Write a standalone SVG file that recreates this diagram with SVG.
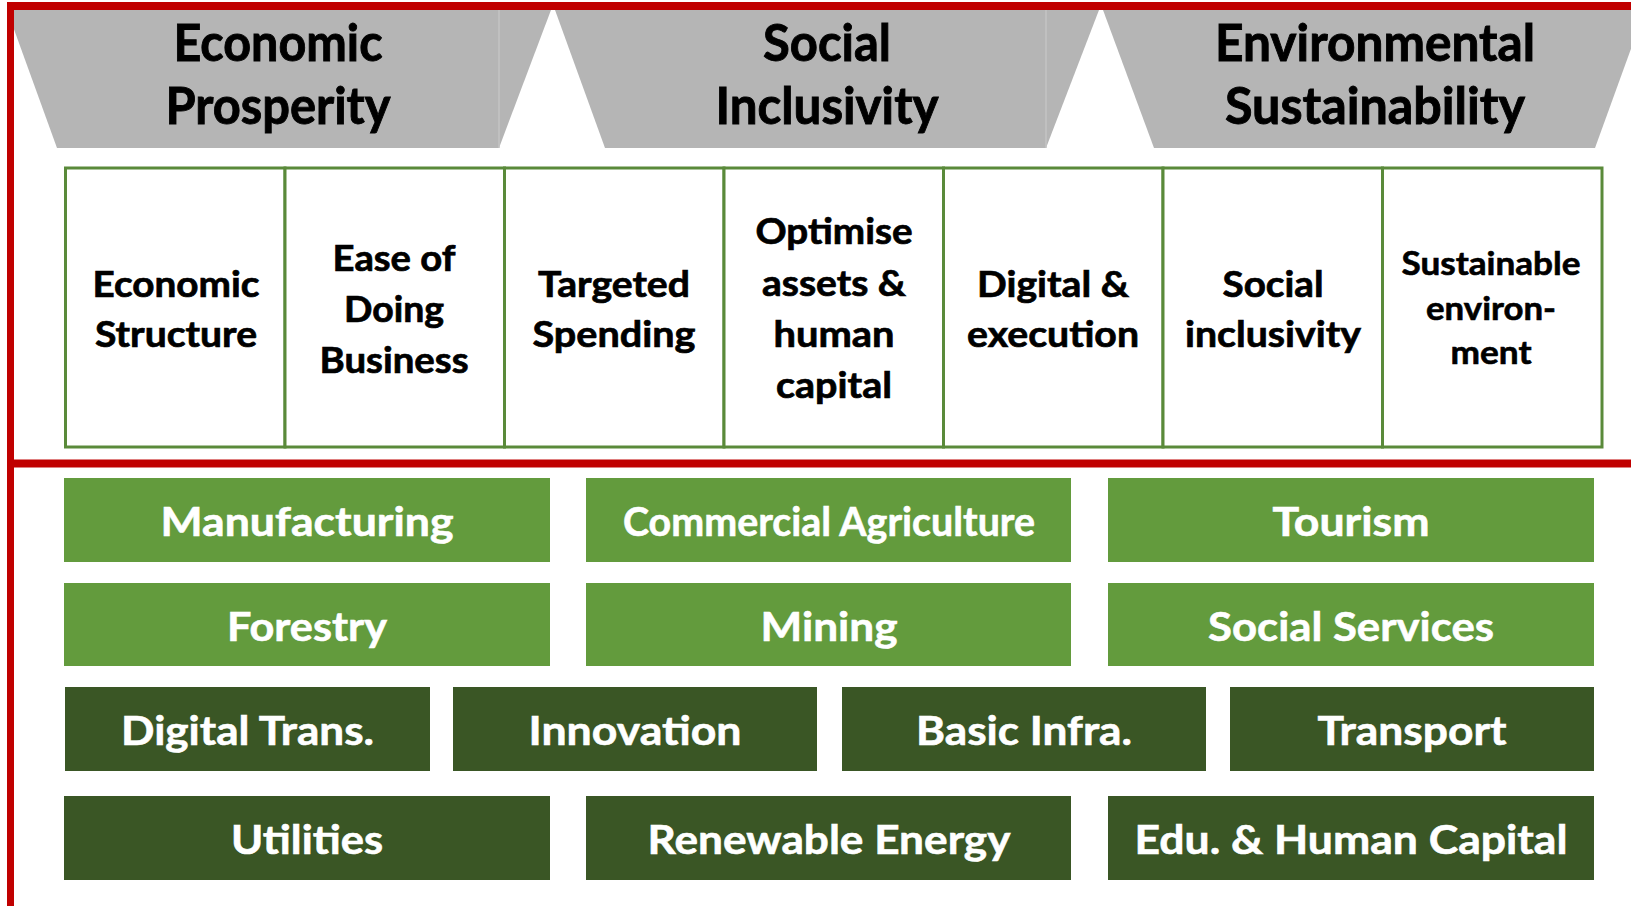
<svg xmlns="http://www.w3.org/2000/svg" width="1631" height="906" viewBox="0 0 1631 906">
<style>
text{font-family:Lato,"Open Sans","Liberation Sans",sans-serif;font-weight:bold;text-anchor:middle}
.hdr{fill:#b5b5b5}
.seam{stroke:#c4c4c4;stroke-width:1.5}
.ht{font-size:51px;fill:#000;stroke:#000;stroke-width:0.9}
.cell{fill:#fff;stroke:#5a8a3a;stroke-width:3}
.ct{font-size:37px;fill:#000;stroke:#000;stroke-width:0.7}
.cs{font-size:32px;fill:#000;stroke:#000;stroke-width:0.6}
.lg{fill:#639b3d}
.dg{fill:#3a5625}
.bt{font-size:41px;fill:#fff;stroke:#fff;stroke-width:0.6}
.red{stroke:#c00000;stroke-width:8;fill:none}
</style>
<rect width="1631" height="906" fill="#fff"/>

<g id="pillar-economic">
<polygon class="hdr" points="7,10 551,10 499,148 57,148"/>
<line class="seam" x1="499" y1="10" x2="499" y2="148"/>
<text class="ht" x="278" y="61" textLength="209" lengthAdjust="spacingAndGlyphs">Economic</text>
<text class="ht" x="278" y="124" textLength="225" lengthAdjust="spacingAndGlyphs">Prosperity</text>
</g>
<g id="pillar-social">
<polygon class="hdr" points="555,10 1099,10 1046,148 605,148"/>
<line class="seam" x1="1046" y1="10" x2="1046" y2="148"/>
<text class="ht" x="827" y="61" textLength="128" lengthAdjust="spacingAndGlyphs">Social</text>
<text class="ht" x="827" y="124" textLength="223" lengthAdjust="spacingAndGlyphs">Inclusivity</text>
</g>
<g id="pillar-environmental">
<polygon class="hdr" points="1103,10 1645,10 1595,148 1154,148"/>
<text class="ht" x="1375" y="61" textLength="320" lengthAdjust="spacingAndGlyphs">Environmental</text>
<text class="ht" x="1375" y="124" textLength="300" lengthAdjust="spacingAndGlyphs">Sustainability</text>
</g>

<g id="cell-economic-structure">
<rect class="cell" x="65.5" y="168" width="219.5" height="279"/>
<text class="ct" x="176" y="297" textLength="167" lengthAdjust="spacingAndGlyphs">Economic</text>
<text class="ct" x="176" y="347" textLength="162" lengthAdjust="spacingAndGlyphs">Structure</text>
</g>
<g id="cell-ease-of-doing-business">
<rect class="cell" x="285" y="168" width="219.5" height="279"/>
<text class="ct" x="394" y="271" textLength="123" lengthAdjust="spacingAndGlyphs">Ease of</text>
<text class="ct" x="394" y="322" textLength="100" lengthAdjust="spacingAndGlyphs">Doing</text>
<text class="ct" x="394" y="373" textLength="149" lengthAdjust="spacingAndGlyphs">Business</text>
</g>
<g id="cell-targeted-spending">
<rect class="cell" x="504.5" y="168" width="219.5" height="279"/>
<text class="ct" x="614" y="297" textLength="152" lengthAdjust="spacingAndGlyphs">Targeted</text>
<text class="ct" x="614" y="347" textLength="163" lengthAdjust="spacingAndGlyphs">Spending</text>
</g>
<g id="cell-optimise-assets">
<rect class="cell" x="724" y="168" width="219.5" height="279"/>
<text class="ct" x="834" y="244" textLength="157" lengthAdjust="spacingAndGlyphs">Optimise</text>
<text class="ct" x="834" y="296" textLength="144" lengthAdjust="spacingAndGlyphs">assets &amp;</text>
<text class="ct" x="834" y="347" textLength="121" lengthAdjust="spacingAndGlyphs">human</text>
<text class="ct" x="834" y="398" textLength="116" lengthAdjust="spacingAndGlyphs">capital</text>
</g>
<g id="cell-digital-execution">
<rect class="cell" x="943.5" y="168" width="219.5" height="279"/>
<text class="ct" x="1053" y="297" textLength="152" lengthAdjust="spacingAndGlyphs">Digital &amp;</text>
<text class="ct" x="1053" y="347" textLength="172" lengthAdjust="spacingAndGlyphs">execution</text>
</g>
<g id="cell-social-inclusivity">
<rect class="cell" x="1163" y="168" width="219.5" height="279"/>
<text class="ct" x="1273" y="297" textLength="101" lengthAdjust="spacingAndGlyphs">Social</text>
<text class="ct" x="1273" y="347" textLength="176" lengthAdjust="spacingAndGlyphs">inclusivity</text>
</g>
<g id="cell-sustainable-environment">
<rect class="cell" x="1382.5" y="168" width="219.5" height="279"/>
<text class="cs" x="1491" y="275" textLength="179" lengthAdjust="spacingAndGlyphs">Sustainable</text>
<text class="cs" x="1491" y="320" textLength="130" lengthAdjust="spacingAndGlyphs">environ-</text>
<text class="cs" x="1491" y="364" textLength="81" lengthAdjust="spacingAndGlyphs">ment</text>
</g>

<g id="sector-manufacturing"><rect class="lg" x="64" y="478" width="486" height="84"/><text class="bt" x="307" y="536" textLength="293" lengthAdjust="spacingAndGlyphs">Manufacturing</text></g>
<g id="sector-commercial-agriculture"><rect class="lg" x="586" y="478" width="485" height="84"/><text class="bt" x="829" y="536" textLength="412" lengthAdjust="spacingAndGlyphs">Commercial Agriculture</text></g>
<g id="sector-tourism"><rect class="lg" x="1108" y="478" width="486" height="84"/><text class="bt" x="1351" y="536" textLength="157" lengthAdjust="spacingAndGlyphs">Tourism</text></g>

<g id="sector-forestry"><rect class="lg" x="64" y="583" width="486" height="83"/><text class="bt" x="307" y="641" textLength="160" lengthAdjust="spacingAndGlyphs">Forestry</text></g>
<g id="sector-mining"><rect class="lg" x="586" y="583" width="485" height="83"/><text class="bt" x="829" y="641" textLength="137" lengthAdjust="spacingAndGlyphs">Mining</text></g>
<g id="sector-social-services"><rect class="lg" x="1108" y="583" width="486" height="83"/><text class="bt" x="1351" y="641" textLength="286" lengthAdjust="spacingAndGlyphs">Social Services</text></g>

<g id="enabler-digital-trans"><rect class="dg" x="65" y="687" width="365" height="84"/><text class="bt" x="247.5" y="745" textLength="253" lengthAdjust="spacingAndGlyphs">Digital Trans.</text></g>
<g id="enabler-innovation"><rect class="dg" x="453" y="687" width="364" height="84"/><text class="bt" x="635" y="745" textLength="213" lengthAdjust="spacingAndGlyphs">Innovation</text></g>
<g id="enabler-basic-infra"><rect class="dg" x="842" y="687" width="364" height="84"/><text class="bt" x="1024" y="745" textLength="216" lengthAdjust="spacingAndGlyphs">Basic Infra.</text></g>
<g id="enabler-transport"><rect class="dg" x="1230" y="687" width="364" height="84"/><text class="bt" x="1412" y="745" textLength="189" lengthAdjust="spacingAndGlyphs">Transport</text></g>

<g id="enabler-utilities"><rect class="dg" x="64" y="796" width="486" height="84"/><text class="bt" x="307" y="854" textLength="152" lengthAdjust="spacingAndGlyphs">Utilities</text></g>
<g id="enabler-renewable-energy"><rect class="dg" x="586" y="796" width="485" height="84"/><text class="bt" x="829" y="854" textLength="363" lengthAdjust="spacingAndGlyphs">Renewable Energy</text></g>
<g id="enabler-edu-human-capital"><rect class="dg" x="1108" y="796" width="486" height="84"/><text class="bt" x="1351" y="854" textLength="433" lengthAdjust="spacingAndGlyphs">Edu. &amp; Human Capital</text></g>

<g id="frame">
<line class="red" x1="7" y1="6" x2="1631" y2="6"/>
<line class="red" x1="7" y1="463.5" x2="1631" y2="463.5"/>
<line class="red" x1="10.5" y1="2" x2="10.5" y2="906" style="stroke-width:7"/>
</g>
</svg>
